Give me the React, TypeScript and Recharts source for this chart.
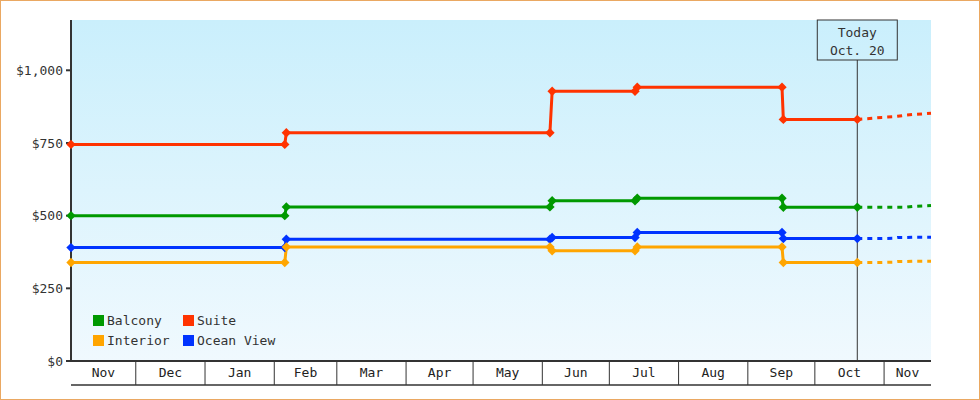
import React from 'react';
import { LineChart, Line, XAxis, YAxis, CartesianGrid, ReferenceLine, Legend } from 'recharts';

// Days counted from Nov 1 (first year)
const monthNames = ['Nov', 'Dec', 'Jan', 'Feb', 'Mar', 'Apr', 'May', 'Jun', 'Jul', 'Aug', 'Sep', 'Oct', 'Nov'];
const monthStarts = [0, 30, 61, 92, 120, 151, 181, 212, 242, 273, 304, 334, 365];
const domainStart = 1;
const domainEnd = 386;
const todayDay = 353;
const todayText = ['Today', 'Oct. 20'];
const yTicks = [0, 250, 500, 750, 1000];
const yMax = 1173;

// Actual price history
const actualDays = [1, 96.7, 97.4, 215.4, 216.4, 253.5, 254.5, 319.3, 319.9, 353];
const suite = [745, 745, 785, 785, 928, 928, 942, 942, 831, 831];
const balcony = [500, 500, 530, 530, 551, 551, 560, 560, 529, 529];
const oceanView = [390, 390, 419, 419, 425, 425, 442, 442, 421, 421];
const interior = [339, 339, 392, 392, 379, 379, 392, 392, 339, 339];

// Forecast (dashed)
const forecastDays = [353, 360, 364, 369, 371, 373, 375, 378, 386];
const suiteF = [831, 835, 838, 840, 842, 844, 846, 848, 852];
const balconyF = [529, 529, 529, 529, 529, 529, 529, 532, 535];
const oceanViewF = [421, 421, 421, 422, 425, 425, 425, 426, 426];
const interiorF = [339, 339, 339, 340, 342, 342, 342, 343, 343];

const series = [
  { key: 'suite', name: 'Suite', color: '#ff3300', actual: suite, forecast: suiteF },
  { key: 'balcony', name: 'Balcony', color: '#009900', actual: balcony, forecast: balconyF },
  { key: 'ocean', name: 'Ocean View', color: '#0033ff', actual: oceanView, forecast: oceanViewF },
  { key: 'interior', name: 'Interior', color: '#ffa500', actual: interior, forecast: interiorF },
];
const legendOrder = ['Balcony', 'Suite', 'Interior', 'Ocean View'];

const FONT = '"DejaVu Sans Mono", monospace';

// build table
const rowMap = new Map<number, any>();
const getRow = (d: number) => {
  if (!rowMap.has(d)) rowMap.set(d, { day: d });
  return rowMap.get(d);
};
series.forEach((s) => {
  actualDays.forEach((d, i) => { getRow(d)[s.key] = s.actual[i]; });
  forecastDays.forEach((d, i) => { getRow(d)[s.key + 'F'] = s.forecast[i]; });
});
const data = Array.from(rowMap.values()).sort((a, b) => a.day - b.day);

const boundaryTicks = monthStarts.filter((d) => d > domainStart && d < domainEnd);
const labelTicks = monthStarts.map((d, i) => {
  const end = i + 1 < monthStarts.length ? monthStarts[i + 1] : domainEnd;
  return (Math.max(d, domainStart) + Math.min(end, domainEnd)) / 2;
});

const Diamond = (color: string) => (p: any) => {
  const { cx, cy, index } = p;
  if (cx == null || cy == null || p.value == null) return <g key={`e-${index}`} />;
  const r = 4.7;
  return (
    <path
      key={`d-${index}`}
      d={`M${cx},${cy - r}L${cx + r},${cy}L${cx},${cy + r}L${cx - r},${cy}Z`}
      fill={color}
      stroke="none"
    />
  );
};

const EmptyTick = () => <g />;

const MonthLabel = (p: any) => {
  const idx = labelTicks.indexOf(p.payload.value);
  return (
    <text x={p.x} y={p.y - 8} textAnchor="middle" fontFamily={FONT} fontSize={13} fill="#222">
      {monthNames[idx]}
    </text>
  );
};

const TodayLabel = (p: any) => {
  const vb = p.viewBox || {};
  const x = vb.x;
  const y = vb.y;
  return (
    <g>
      <rect x={x - 40} y={y} width={80} height={40} fill="url(#bgGrad)" stroke="#333" strokeWidth={1} />
      <text x={x} y={y + 17} textAnchor="middle" fontFamily={FONT} fontSize={13} fill="#333">{todayText[0]}</text>
      <text x={x} y={y + 34.5} textAnchor="middle" fontFamily={FONT} fontSize={13} fill="#333">{todayText[1]}</text>
    </g>
  );
};

const LegendContent = () => (
  <div
    style={{
      display: 'grid',
      gridTemplateColumns: '90px auto',
      rowGap: 9,
      fontFamily: FONT,
      fontSize: 13,
      color: '#333',
    }}
  >
    {legendOrder.map((n) => {
      const s = series.find((x) => x.name === n)!;
      return (
        <div key={n} style={{ display: 'flex', alignItems: 'center', height: 11, lineHeight: '11px', whiteSpace: 'nowrap' }}>
          <span style={{ display: 'inline-block', width: 11, height: 11, background: s.color, marginRight: 3 }} />
          <span>{n}</span>
        </div>
      );
    })}
  </div>
);

export default function App() {
  return (
    <div style={{ position: 'absolute', left: 0, top: 0, width: 980, height: 400, background: '#fff' }}>
      <div
        style={{
          position: 'absolute',
          left: 0,
          top: 0,
          width: 980,
          height: 400,
          boxSizing: 'border-box',
          border: '1px solid #eaa862',
          pointerEvents: 'none',
          zIndex: 2,
        }}
      />
      <LineChart width={980} height={400} data={data} margin={{ top: 20, right: 49, bottom: 14, left: 0 }}>
        <defs>
          <linearGradient id="bgGrad" gradientUnits="userSpaceOnUse" x1="0" y1="20" x2="0" y2="361">
            <stop offset="0%" stopColor="#caeffc" />
            <stop offset="100%" stopColor="#f0f9fe" />
          </linearGradient>
        </defs>
        <CartesianGrid fill="url(#bgGrad)" stroke="none" horizontal={false} vertical={false} />
        <XAxis
          xAxisId="a"
          dataKey="day"
          type="number"
          domain={[domainStart, domainEnd]}
          ticks={boundaryTicks}
          interval={0}
          height={24}
          tickSize={24}
          tick={<EmptyTick />}
          tickLine={{ stroke: '#333', strokeWidth: 1 }}
          axisLine={{ stroke: '#333', strokeWidth: 2 }}
        />
        <XAxis
          xAxisId="b"
          dataKey="day"
          type="number"
          domain={[domainStart, domainEnd]}
          ticks={labelTicks}
          interval={0}
          height={1}
          tickSize={0}
          tickMargin={0}
          tickLine={false}
          tick={<MonthLabel />}
          axisLine={{ stroke: '#333', strokeWidth: 1.5 }}
        />
        <YAxis
          type="number"
          domain={[0, yMax]}
          ticks={yTicks}
          interval={0}
          width={71}
          tickSize={5}
          tickMargin={3}
          tickFormatter={(v: number) => '$' + v.toLocaleString('en-US')}
          tick={{ fontFamily: FONT, fontSize: 13, fill: '#333' }}
          tickLine={{ stroke: '#333', strokeWidth: 2 }}
          axisLine={{ stroke: '#333', strokeWidth: 2 }}
        />
        <ReferenceLine xAxisId="a" x={todayDay} stroke="#333" strokeWidth={1} label={<TodayLabel />} />
        {series.map((s) => (
          <Line
            key={s.key + 'F'}
            xAxisId="a"
            dataKey={s.key + 'F'}
            name={s.name + ' forecast'}
            stroke={s.color}
            strokeWidth={3}
            strokeDasharray="5 5"
            dot={false}
            activeDot={false}
            connectNulls
            type="linear"
            legendType="none"
            isAnimationActive={false}
          />
        ))}
        {series.map((s) => (
          <Line
            key={s.key}
            xAxisId="a"
            dataKey={s.key}
            name={s.name}
            stroke={s.color}
            strokeWidth={3}
            dot={Diamond(s.color)}
            activeDot={false}
            connectNulls
            type="linear"
            isAnimationActive={false}
          />
        ))}
        <Legend
          layout="horizontal"
          align="center"
          verticalAlign="middle"
          content={<LegendContent />}
          wrapperStyle={{ left: 93, top: 315, width: 'auto', height: 'auto' }}
        />
      </LineChart>
    </div>
  );
}
